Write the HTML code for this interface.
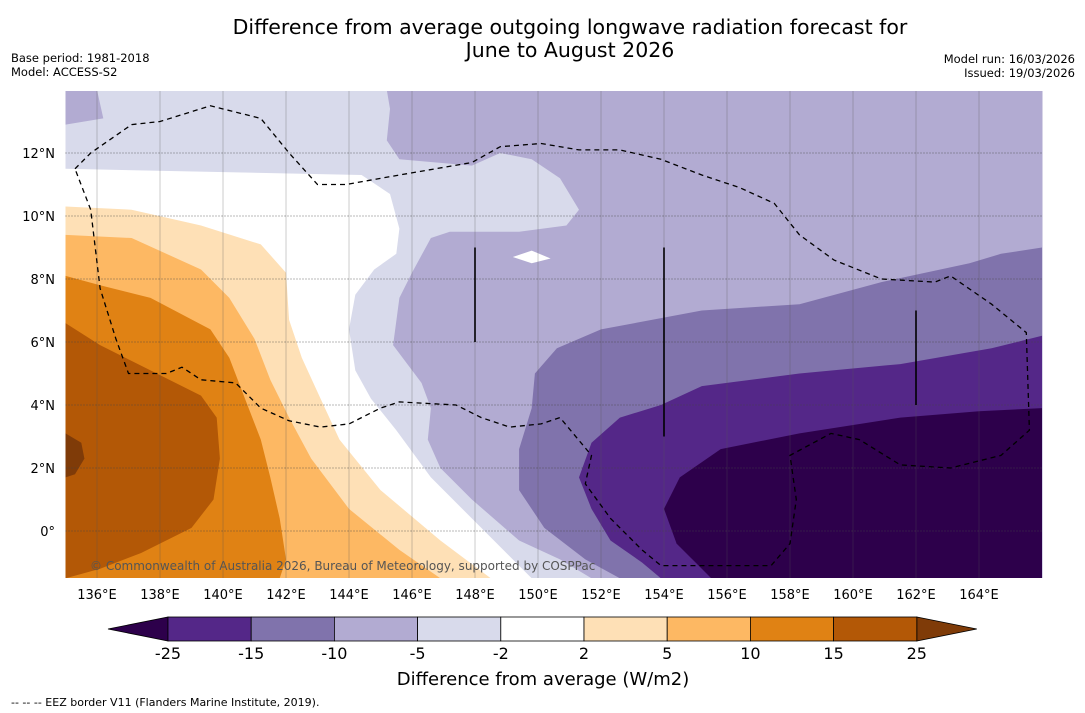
<!DOCTYPE html>
<html><head><meta charset="utf-8"><style>
html,body{margin:0;padding:0;background:#fff;}
svg{display:block;font-family:"DejaVu Sans","Liberation Sans",sans-serif;}
</style></head><body>
<svg id="c" width="1085" height="713" viewBox="0 0 1085 713">
<text x="570" y="34" text-anchor="middle" font-size="20.5">Difference from average outgoing longwave radiation forecast for</text>
<text x="570" y="57" text-anchor="middle" font-size="20.5">June to August 2026</text>
<text x="11" y="62" font-size="11.5">Base period: 1981-2018</text>
<text x="11" y="76" font-size="11.5">Model: ACCESS-S2</text>
<text x="1075" y="63" font-size="11.5" text-anchor="end">Model run: 16/03/2026</text>
<text x="1075" y="77" font-size="11.5" text-anchor="end">Issued: 19/03/2026</text>
<text x="11" y="706" font-size="11">--  --  -- EEZ border V11 (Flanders Marine Institute, 2019).</text>
<g id="map"></g>
<g id="cbar"></g>
</svg>
<script>
const lonTicks=[136,138,140,142,144,146,148,150,152,154,156,158,160,162,164];
const latTicks=[0,2,4,6,8,10,12];
const levelLabels=["-25","-15","-10","-5","-2","2","5","10","15","25"];
const levelColors=["#542788","#8073ac","#b2abd2","#d8daeb","#f7f7f7","#fee0b6","#fdb863","#e08214","#b35806"];
const lowColor="#2d004b", highColor="#7f3b08";
const baseColor="#b2abd2";
const cornerPatch=[[135,14],[136,14],[136.2,13.1],[135.6,13.0],[135,12.9]];
const regionM5=[[135,12.9],[135.6,13.0],[136.2,13.1],[136,14],[145.2,14],[145.3,13.4],[145.2,12.4],[145.6,11.8],[147.9,11.6],[148.8,12.0],[149.8,11.8],[150.7,11.2],[151.3,10.2],[150.9,9.7],[149.4,9.5],[147.2,9.5],[146.6,9.3],[146.0,8.2],[145.6,7.4],[145.4,5.9],[146.3,4.7],[146.6,3.9],[146.5,2.9],[146.9,2.0],[147.9,1.0],[149.4,-0.3],[150.7,-0.9],[151.7,-1.5],[135,-1.5]];
const regionNeutral=[[135,11.5],[144.4,11.3],[145.3,10.7],[145.6,9.6],[145.5,8.8],[144.8,8.3],[144.2,7.5],[144.0,6.4],[144.2,5.1],[144.7,4.2],[145.5,3.2],[146.6,1.7],[148.2,0.1],[149.8,-1.5],[135,-1.5]];
const neutralBlob=[[149.2,8.7],[149.8,8.9],[150.4,8.65],[149.8,8.5]];
const regionP2=[[135,10.3],[137.1,10.2],[139.3,9.7],[141.2,9.1],[142.0,8.2],[142.1,6.7],[142.5,5.5],[143.1,4.2],[143.7,2.9],[145.0,1.3],[146.9,-0.3],[148.5,-1.5],[135,-1.5]];
const regionP5=[[135,9.4],[137.1,9.3],[139.3,8.3],[140.2,7.4],[141.0,6.1],[141.5,4.8],[142.1,3.6],[142.8,2.3],[144.0,0.7],[145.6,-0.6],[146.9,-1.5],[135,-1.5]];
const regionP10=[[135,8.1],[136.1,7.8],[137.7,7.4],[139.6,6.4],[140.2,5.5],[140.7,4.2],[141.2,2.9],[141.5,1.7],[141.8,0.4],[142.0,-0.9],[141.8,-1.5],[135,-1.5]];
const regionP15=[[135,6.6],[136.1,5.9],[137.7,5.1],[139.3,4.3],[139.8,3.6],[139.9,2.3],[139.7,1.0],[139.0,0.1],[137.4,-0.7],[136.1,-1.2],[135,-1.5]];
const regionP25=[[135,3.1],[135.5,2.8],[135.6,2.3],[135.3,1.8],[135,1.7]];
const regionM10=[[166,9.0],[164.7,8.8],[163.7,8.5],[160.9,7.9],[158.3,7.2],[155.2,7.0],[152.0,6.4],[150.6,5.8],[149.9,5.0],[149.8,3.9],[149.4,2.6],[149.4,1.3],[150.2,0.1],[151.5,-0.9],[152.6,-1.5],[166,-1.5]];
const regionM15=[[166,6.2],[164.4,5.8],[161.5,5.3],[158.3,5.0],[155.2,4.6],[153.9,4.0],[152.6,3.6],[151.7,2.8],[151.3,1.7],[151.7,0.7],[152.3,-0.3],[153.3,-1.0],[153.9,-1.5],[166,-1.5]];
const regionM25=[[166,3.9],[164.0,3.8],[161.5,3.6],[158.3,3.1],[155.8,2.6],[154.5,1.7],[154.0,0.7],[154.4,-0.4],[155.2,-1.2],[155.5,-1.5],[166,-1.5]];
const eezPath=[[135.3,11.5],[135.8,12.0],[137.1,12.9],[138.0,13.0],[139.6,13.5],[141.2,13.1],[142.1,12.0],[143.0,11.0],[143.9,11.0],[145.6,11.3],[147.9,11.7],[148.8,12.2],[150.1,12.3],[151.3,12.1],[152.6,12.1],[153.9,11.8],[155.2,11.3],[156.4,10.9],[157.5,10.4],[158.3,9.4],[159.4,8.6],[160.9,8.0],[162.6,7.9],[163.1,8.1],[164.4,7.2],[165.5,6.3],[165.6,3.2],[164.7,2.4],[163.1,2.0],[161.5,2.1],[160.2,2.9],[159.3,3.1],[158.0,2.4],[158.2,1.0],[158.0,-0.4],[157.4,-1.1],[153.9,-1.1],[153.3,-0.6],[152.3,0.4],[151.5,1.5],[151.7,2.4],[150.7,3.6],[150.1,3.4],[149.1,3.3],[148.2,3.6],[147.4,4.0],[145.6,4.1],[145.0,3.9],[144.0,3.4],[143.1,3.3],[142.1,3.5],[141.2,3.9],[140.4,4.7],[139.3,4.8],[138.7,5.2],[138.2,5.0],[137.0,5.0],[136.6,6.1],[136.1,7.7],[135.8,10.2],[135.3,11.5]];
const vSegLon=[148,154,162];
const vSegLat1=[9,9,7];
const vSegLat2=[6,3,4];

const NS="http://www.w3.org/2000/svg";
const X0=65.5,Y0=531,S=31.5,LON0=135,W=977,TOP=91,BOT=578;
function xs(lon){return X0+(lon-LON0)*S;}
function ys(lat){return Y0-lat*S;}
function pts(a){return a.map(p=>xs(p[0]).toFixed(1)+","+ys(p[1]).toFixed(1)).join(" ");}
function mk(tag,attrs,parent){const e=document.createElementNS(NS,tag);for(const k in attrs)e.setAttribute(k,attrs[k]);parent.appendChild(e);return e;}
const map=document.getElementById("map");
const defs=mk("defs",{},map);
const cp=mk("clipPath",{id:"clip"},defs);
mk("rect",{x:X0,y:TOP,width:W,height:BOT-TOP},cp);
const g=mk("g",{"clip-path":"url(#clip)"},map);
const bg=mk("rect",{x:X0,y:TOP,width:W,height:BOT-TOP,fill:baseColor},g);


const layers=[[cornerPatch,baseColor,"region-minus10-corner"],[regionM5,levelColors[3],"region-minus5"],[regionNeutral,"#ffffff","region-neutral"],[neutralBlob,"#ffffff","region-neutral-blob"],[regionP2,levelColors[5],"region-plus2"],[regionP5,levelColors[6],"region-plus5"],[regionP10,levelColors[7],"region-plus10"],[regionP15,levelColors[8],"region-plus15"],[regionP25,highColor,"region-plus25"],[regionM10,levelColors[1],"region-minus10"],[regionM15,levelColors[0],"region-minus15"],[regionM25,lowColor,"region-minus25"]];
layers.forEach(l=>{const p=mk("polygon",{points:pts(l[0]),fill:l[1]},g);

});
lonTicks.forEach(lon=>{const l=mk("line",{x1:xs(lon),x2:xs(lon),y1:TOP,y2:BOT,stroke:"#555","stroke-width":0.5,"stroke-opacity":0.6},g);


const t=mk("text",{x:xs(lon),y:599,"text-anchor":"middle","font-size":13},map);t.textContent=lon+"°E";

});
latTicks.forEach(lat=>{const l=mk("line",{x1:X0,x2:X0+W,y1:ys(lat),y2:ys(lat),stroke:"#444","stroke-width":0.7,"stroke-dasharray":"1,2"},g);


const t=mk("text",{x:55,y:ys(lat)+5,"text-anchor":"end","font-size":13},map);t.textContent=lat===0?"0°":lat+"°N";

});
const eez=mk("polyline",{points:pts(eezPath),fill:"none",stroke:"#000","stroke-width":1.3,"stroke-dasharray":"5,4"},g);


vSegLon.forEach((lon,i)=>{const l=mk("line",{x1:xs(lon),x2:xs(lon),y1:ys(vSegLat1[i]),y2:ys(vSegLat2[i]),stroke:"#000","stroke-width":1.6},g);

});
const cr=mk("text",{x:90,y:570,"font-size":12,fill:"#555"},g);cr.textContent="© Commonwealth of Australia 2026, Bureau of Meteorology, supported by COSPPac";


// colorbar
const cb=document.getElementById("cbar");
const cbX=168,cbW=83.2,cbY=617,cbH=24;
const lt=mk("polygon",{points:`${cbX},${cbY} ${cbX},${cbY+cbH} 108,${cbY+cbH/2}`,fill:lowColor,stroke:"#000","stroke-width":0.8},cb);


const xe=cbX+cbW*levelColors.length;
const rt=mk("polygon",{points:`${xe},${cbY} ${xe},${cbY+cbH} ${xe+60},${cbY+cbH/2}`,fill:highColor,stroke:"#000","stroke-width":0.8},cb);


levelColors.forEach((c,i)=>{const r=mk("rect",{x:cbX+i*cbW,y:cbY,width:cbW,height:cbH,fill:c==="#f7f7f7"?"#ffffff":c,stroke:"#000","stroke-width":0.8},cb);

});
levelLabels.forEach((s,i)=>{const t=mk("text",{x:cbX+i*cbW,y:659,"text-anchor":"middle","font-size":16},cb);t.textContent=s;

});
const ct=mk("text",{x:543,y:685,"text-anchor":"middle","font-size":18},cb);ct.textContent="Difference from average (W/m2)";


</script>
</body></html>
